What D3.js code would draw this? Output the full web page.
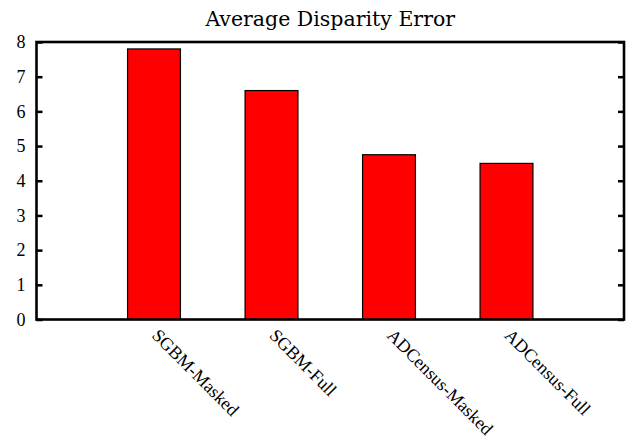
<!DOCTYPE html>
<html><head><meta charset="utf-8">
<script src="https://cdn.jsdelivr.net/npm/d3@7"></script>
<style>body{margin:0;background:#fff;}svg{display:block;}text{fill:#000;}</style>
</head><body>
<script>
const categories = ["SGBM-Masked", "SGBM-Full", "ADCensus-Masked", "ADCensus-Full"];
const values = [7.8, 6.6, 4.75, 4.5];
const yTicks = [0, 1, 2, 3, 4, 5, 6, 7, 8];
const title = "Average Disparity Error";

const W = 627, H = 438;
const m = {left: 36.5, right: 3, top: 42, bottom: 118.5};
const svg = d3.select("body").append("svg").attr("width", W).attr("height", H);
const x = d3.scaleLinear().domain([-1, categories.length]).range([m.left, W - m.right]);
const y = d3.scaleLinear().domain([0, 8]).range([H - m.bottom, m.top]);
const bw = x(0.45) - x(0);

svg.append("text").attr("x", (x.range()[0] + x.range()[1]) / 2).attr("y", 26)
  .attr("text-anchor", "middle").style("font-family", "'DejaVu Serif', serif")
  .style("font-size", "20.5px").text(title);

svg.selectAll("rect.bar").data(values).join("rect").attr("class", "bar")
  .attr("x", (d, i) => x(i) - bw / 2).attr("width", bw)
  .attr("y", d => y(d)).attr("height", d => y(0) - y(d))
  .attr("fill", "#ff0000").attr("stroke", "#000").attr("stroke-width", 1.2);

// left axis
const gl = svg.append("g").attr("transform", `translate(${m.left},0)`)
  .call(d3.axisLeft(y).tickValues(yTicks).tickSize(-6).tickPadding(11).tickFormat(d3.format("d")));
gl.select(".domain").remove();
gl.selectAll("line").attr("stroke", "#000").attr("stroke-width", 2.5);
gl.selectAll("text").style("font-size", "18px").style("font-family", "'Liberation Serif', serif");
// right axis mirror ticks
const gr = svg.append("g").attr("transform", `translate(${W - m.right},0)`)
  .call(d3.axisRight(y).tickValues(yTicks).tickSize(-6).tickFormat(""));
gr.select(".domain").remove();
gr.selectAll("line").attr("stroke", "#000").attr("stroke-width", 2.5);

// frame
svg.append("rect").attr("x", x.range()[0]).attr("y", y(8))
  .attr("width", x.range()[1] - x.range()[0]).attr("height", y(0) - y(8))
  .attr("fill", "none").attr("stroke", "#000").attr("stroke-width", 2.6);

// x labels
svg.selectAll("text.xl").data(categories).join("text").attr("class", "xl")
  .attr("transform", (d, i) => `translate(${x(i) - 3},${y(0) + 17}) rotate(45)`)
  .attr("text-anchor", "start").style("font-family", "'Liberation Serif', serif")
  .style("font-size", "18px").text(d => d);
</script>
</body></html>
